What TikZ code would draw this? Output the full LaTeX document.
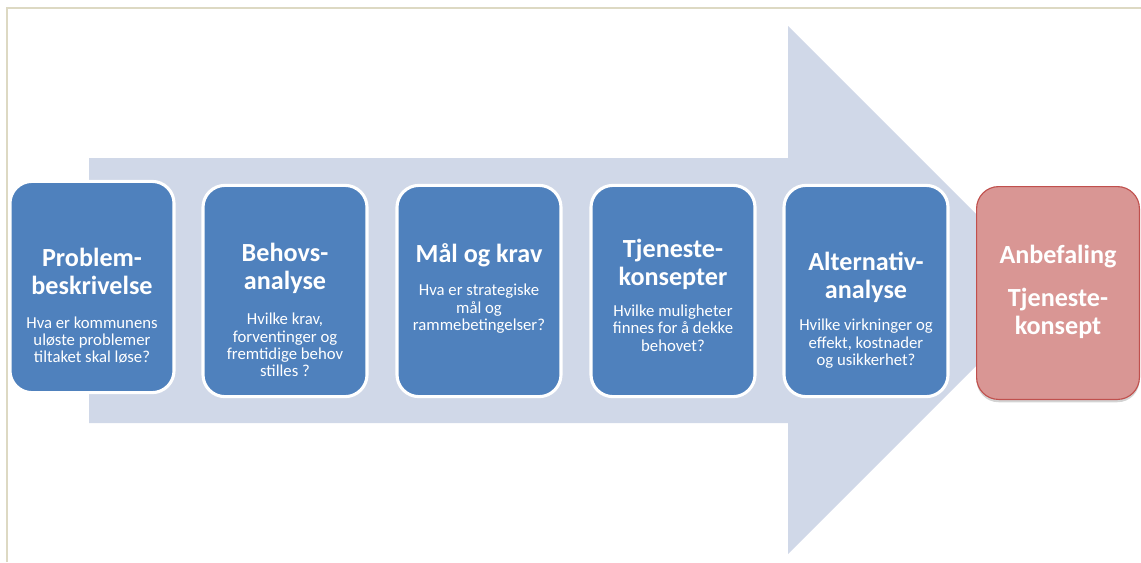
\documentclass[tikz,border=0pt]{standalone}
\usepackage{fontspec}
\setmainfont{Carlito}
\usetikzlibrary{shadows}

\definecolor{framebeige}{RGB}{221,217,195}
\definecolor{arrowgrey}{RGB}{208,216,232}
\definecolor{stepblue}{RGB}{79,129,189}
\definecolor{recpink}{RGB}{217,150,148}
\definecolor{recred}{RGB}{192,80,77}

\begin{document}
\begin{tikzpicture}[
    x=0.025cm, y=-0.025cm,
    stepbox/.style={
      rectangle,
      rounded corners=0.55cm,
      minimum width=4.1cm,
      minimum height=5.28cm,
      fill=stepblue,
      draw=white,
      line width=2.2pt
    },
    recbox/.style={
      stepbox,
      fill=recpink,
      draw=recred,
      line width=0.8pt,
      drop shadow={opacity=0.35, shadow xshift=0pt, shadow yshift=-2pt}
    },
    steptitle/.style={
      text=white,
      align=center,
      font=\fontsize{18.6}{19.8}\selectfont\bfseries
    },
    stepquestion/.style={
      text=white,
      align=center,
      font=\fontsize{11.9}{12.4}\selectfont
    }
  ]

  \path[use as bounding box] (0,0) rectangle (1141,562);

  % =====================================================
  % FRAME
  % =====================================================
  \draw[framebeige, line width=1.5pt] (7,562) -- (7,8) -- (1141,8);

  % =====================================================
  % BIG ARROW
  % =====================================================
  \def\xBody{89}
  \def\xHead{788}
  \def\xTip{1052}
  \def\yMid{290}

  \fill[arrowgrey] (\xBody,158) -- (\xHead,158) -- (\xHead,26)
  -- (\xTip,\yMid) -- (\xHead,554) -- (\xHead,423) -- (\xBody,423) -- cycle;

  % =====================================================
  % STEPS
  % =====================================================
  \node[stepbox] (b1) at (92,287) {};
  \node[stepbox] (b2) at (285,291) {};
  \node[stepbox] (b3) at (479,291) {};
  \node[stepbox] (b4) at (673,291) {};
  \node[stepbox] (b5) at (866,291) {};
  \node[recbox, minimum width=4.07cm, minimum height=5.32cm] (b6) at (1058,293) {};

  % titles
  \node[steptitle] (t1) at (92,271) {Problem-\\beskrivelse};
  \node[steptitle] (t2) at (285,268) {Behovs-\\analyse};
  \node[steptitle] (t3) at (479,255) {Mål og krav};
  \node[steptitle] (t4) at (673,264) {Tjeneste-\\konsepter};
  \node[steptitle] (t5) at (866,277) {Alternativ-\\analyse};
  \node[steptitle] (t6) at (1058,257) {Anbefaling};

  % questions
  \node[stepquestion] (q1) at (92,340) {Hva er kommunens\\uløste problemer\\tiltaket skal løse?};
  \node[stepquestion] (q2) at (285,345) {Hvilke krav,\\forventinger og\\fremtidige behov\\stilles ?};
  \node[stepquestion] (q3) at (479,309) {Hva er strategiske\\mål og\\rammebetingelser?};
  \node[stepquestion] (q4) at (673,328) {Hvilke muligheter\\finnes for å dekke\\behovet?};
  \node[stepquestion] (q5) at (866,344) {Hvilke virkninger og\\effekt, kostnader\\og usikkerhet?};
  \node[steptitle] (q6) at (1058,313) {Tjeneste-\\konsept};

\end{tikzpicture}
\end{document}
